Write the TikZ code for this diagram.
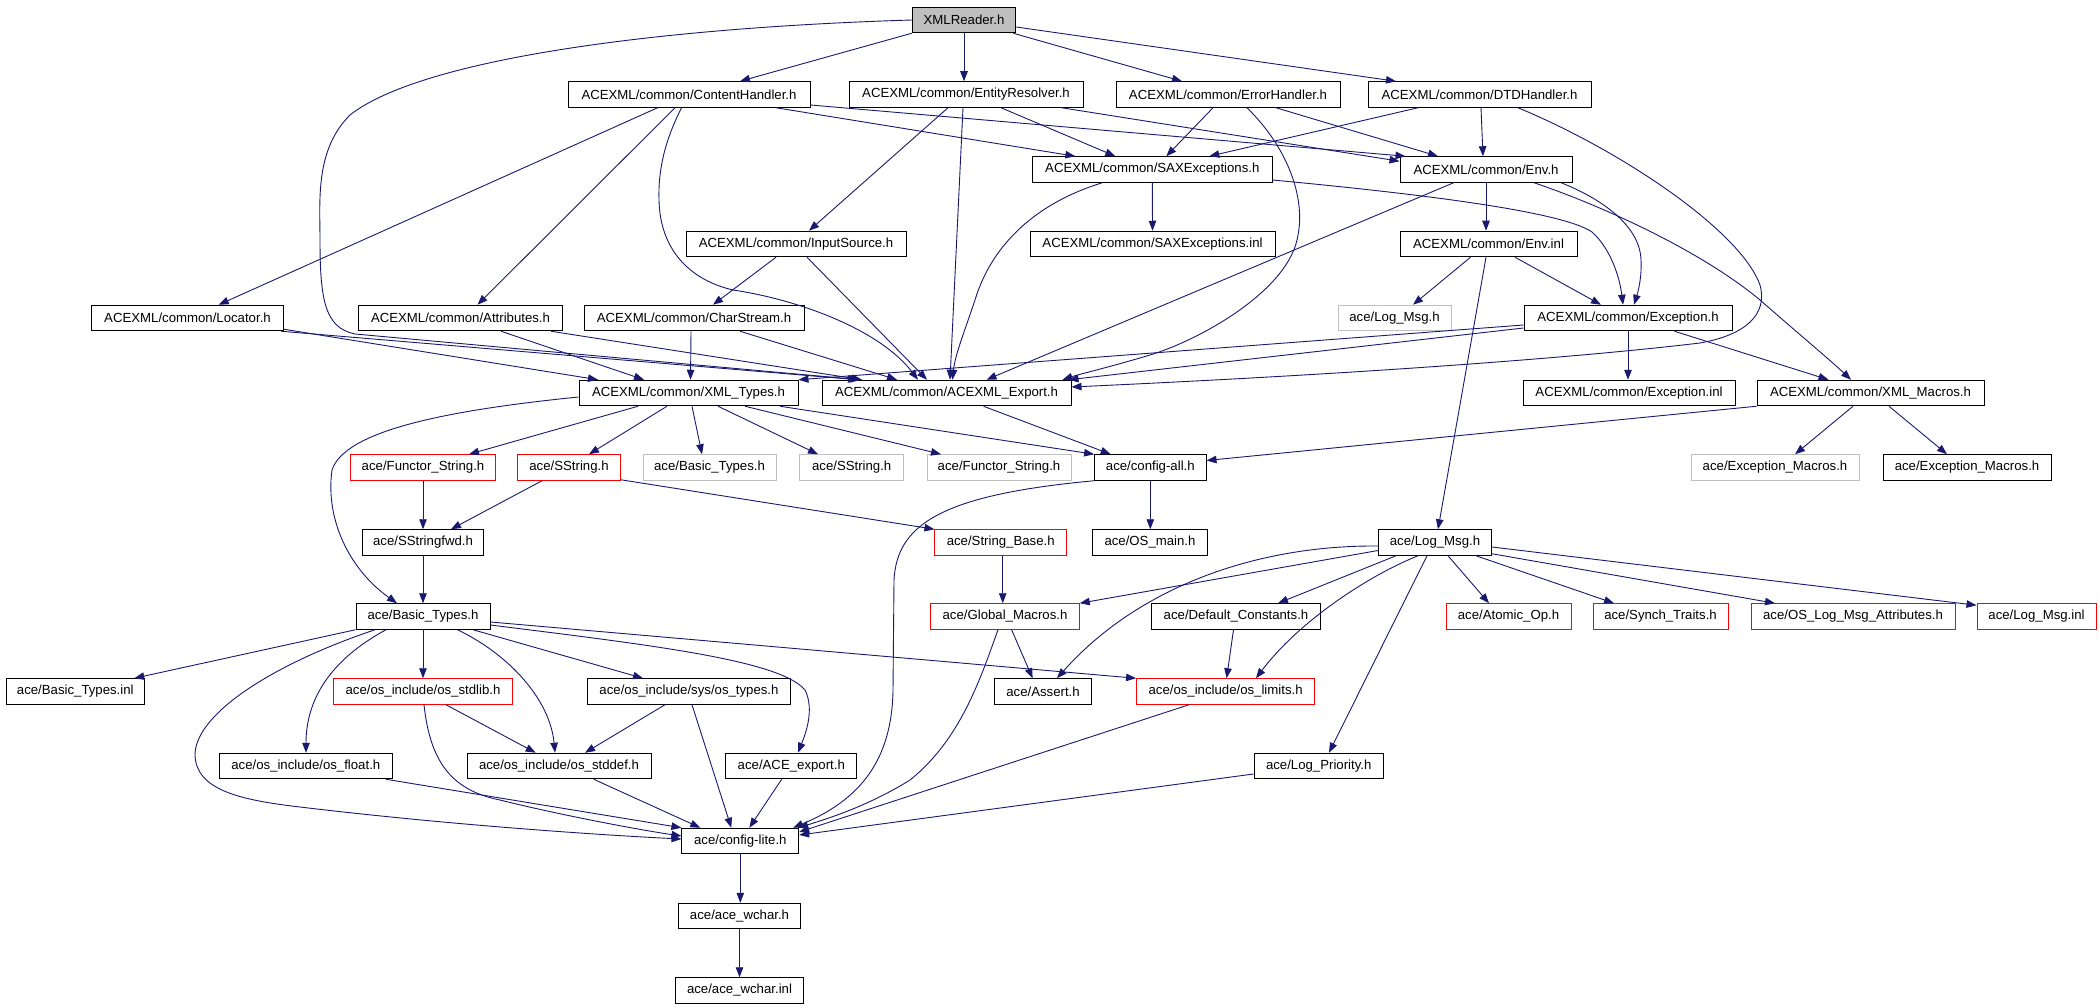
\documentclass[tikz,border=0pt]{standalone}
\usepackage{fontspec}
\setmainfont{Liberation Sans}
\usetikzlibrary{arrows.meta,calc}
\definecolor{edgeblue}{HTML}{191970}
\definecolor{boxgray}{HTML}{BFBFBF}
\begin{document}
\begin{tikzpicture}[x=1pt,y=-1pt,
  box/.style={draw=black, line width=1pt, minimum height=25.5pt, inner sep=0pt, font=\fontsize{13.2}{15}\selectfont, text=black},
  redbox/.style={box, draw=red},
  graybox/.style={box, draw=boxgray},
  dep/.style={draw=edgeblue, line width=0.9pt, -{Triangle[length=10pt,width=7.5pt]}}]
\fill[white] (0,0) rectangle (2099,1008);
\useasboundingbox (0,0) rectangle (2099,1008);
% row 0
\node[box, fill=boxgray, minimum width=103.5] (xmlreader) at (964,20) {XMLReader.h};
% row 1
\node[box, minimum width=242] (contenthandler) at (689,94.5) {ACEXML/common/ContentHandler.h};
\node[box, minimum width=234] (entityresolver) at (966,94.5) {ACEXML/common/EntityResolver.h};
\node[box, minimum width=224] (errorhandler) at (1228,94.5) {ACEXML/common/ErrorHandler.h};
\node[box, minimum width=223] (dtdhandler) at (1479.5,94.5) {ACEXML/common/DTDHandler.h};
% row 2
\node[box, minimum width=239.4] (saxexc) at (1152.3,169.5) {ACEXML/common/SAXExceptions.h};
\node[box, minimum width=172] (envh) at (1486,169.5) {ACEXML/common/Env.h};
% row 3
\node[box, minimum width=220] (inputsource) at (796,244) {ACEXML/common/InputSource.h};
\node[box, minimum width=245] (saxinl) at (1152.5,244) {ACEXML/common/SAXExceptions.inl};
\node[box, minimum width=177] (envinl) at (1488.5,244) {ACEXML/common/Env.inl};
% row 4
\node[box, minimum width=192] (locator) at (187.5,318) {ACEXML/common/Locator.h};
\node[box, minimum width=204] (attributes) at (460.5,318) {ACEXML/common/Attributes.h};
\node[box, minimum width=220] (charstream) at (694,318) {ACEXML/common/CharStream.h};
\node[graybox, minimum width=113] (logmsggray) at (1394.5,318) {ace/Log\_Msg.h};
\node[box, minimum width=208] (exception) at (1628,318) {ACEXML/common/Exception.h};
% row 5
\node[box, minimum width=219] (xmltypes) at (688.5,393) {ACEXML/common/XML\_Types.h};
\node[box, minimum width=249] (export) at (946.5,393) {ACEXML/common/ACEXML\_Export.h};
\node[box, minimum width=212] (exceptioninl) at (1629,393) {ACEXML/common/Exception.inl};
\node[box, minimum width=227] (xmlmacros) at (1870.5,393) {ACEXML/common/XML\_Macros.h};
% row 6
\node[redbox, minimum width=145] (functorred) at (423,467.5) {ace/Functor\_String.h};
\node[redbox, minimum width=102.5] (sstringred) at (569,467.5) {ace/SString.h};
\node[graybox, minimum width=133] (basictypesgray) at (709.5,467.5) {ace/Basic\_Types.h};
\node[graybox, minimum width=103.5] (sstringgray) at (851.7,467.5) {ace/SString.h};
\node[graybox, minimum width=144] (functorgray) at (999,467.5) {ace/Functor\_String.h};
\node[box, minimum width=111.4] (configall) at (1150.3,467.5) {ace/config-all.h};
\node[graybox, minimum width=168] (excmacrosgray) at (1775,467.5) {ace/Exception\_Macros.h};
\node[box, minimum width=168] (excmacros) at (1967,467.5) {ace/Exception\_Macros.h};
% row 7
\node[box, minimum width=121.5] (sstringfwd) at (423,542.5) {ace/SStringfwd.h};
\node[redbox, minimum width=131.5] (stringbase) at (1000.7,542.5) {ace/String\_Base.h};
\node[box, minimum width=115.6] (osmain) at (1150,542.5) {ace/OS\_main.h};
\node[box, minimum width=113] (logmsg) at (1435,542.5) {ace/Log\_Msg.h};
% row 8
\node[box, minimum width=134] (basictypes) at (423,616.5) {ace/Basic\_Types.h};
\node[redbox, minimum width=148.5] (globalmacros) at (1005,616.5) {ace/Global\_Macros.h};
\node[box, minimum width=168.5] (defaultconst) at (1236,616.5) {ace/Default\_Constants.h};
\node[redbox, minimum width=125] (atomicop) at (1508.5,616.5) {ace/Atomic\_Op.h};
\node[redbox, minimum width=135] (synchtraits) at (1660.5,616.5) {ace/Synch\_Traits.h};
\node[redbox, minimum width=204] (oslogmsgattr) at (1853,616.5) {ace/OS\_Log\_Msg\_Attributes.h};
\node[redbox, minimum width=119] (logmsginl) at (2036.5,616.5) {ace/Log\_Msg.inl};
% row 9
\node[box, minimum width=138.6] (basictypesinl) at (75.3,691.5) {ace/Basic\_Types.inl};
\node[redbox, minimum width=178.5] (osstdlib) at (423,691.5) {ace/os\_include/os\_stdlib.h};
\node[box, minimum width=203] (ostypes) at (689,691.5) {ace/os\_include/sys/os\_types.h};
\node[box, minimum width=97] (assert) at (1043,691.5) {ace/Assert.h};
\node[redbox, minimum width=178] (oslimits) at (1225.6,691.5) {ace/os\_include/os\_limits.h};
% row 10
\node[box, minimum width=172.4] (osfloat) at (305.8,766) {ace/os\_include/os\_float.h};
\node[box, minimum width=184] (osstddef) at (559,766) {ace/os\_include/os\_stddef.h};
\node[box, minimum width=130.7] (aceexport) at (791.3,766) {ace/ACE\_export.h};
\node[box, minimum width=129.4] (logpriority) at (1318.7,766) {ace/Log\_Priority.h};
% rows 11-13
\node[box, minimum width=116.7] (configlite) at (740.3,841) {ace/config-lite.h};
\node[box, minimum width=122] (acewchar) at (739.5,916) {ace/ace\_wchar.h};
\node[box, minimum width=128] (acewcharinl) at (739.5,990.5) {ace/ace\_wchar.inl};

% ---- edges from XMLReader
\draw[dep] (xmlreader.south west) -- ([xshift=51]contenthandler.north);
\draw[dep] (xmlreader.south) -- (xmlreader.south |- entityresolver.north);
\draw[dep] ([xshift=-3]xmlreader.south east) -- ([xshift=-46]errorhandler.north);
\draw[dep] ([yshift=-7]xmlreader.east) -- ([xshift=-83.5]dtdhandler.north);
\draw[dep] (xmlreader.west) .. controls (650,28) and (420,60) .. (350,115) .. controls (315,150) and (320,200) .. (320,240) .. controls (320,300) and (325,328) .. (355,334) -- ([xshift=-86.5]export.north);
% ---- ContentHandler
\draw[dep] ([xshift=-31.4]contenthandler.south) -- ([xshift=31.2]locator.north);
\draw[dep] ([xshift=-14]contenthandler.south) -- ([xshift=17]attributes.north);
\draw[dep] ([xshift=-7.4]contenthandler.south) .. controls (665,140) and (658,170) .. (659,200) .. controls (660,250) and (690,280) .. (733,290) .. controls (800,300) and (880,330) .. ([xshift=-28.5]export.north);
\draw[dep] ([xshift=87]contenthandler.south) -- ([xshift=-77]saxexc.north);
\draw[dep] ([yshift=-10.5]contenthandler.east) -- ([xshift=6]envh.north west);
% ---- EntityResolver
\draw[dep] ([xshift=95.6]entityresolver.south) -- ([yshift=-5]envh.north west);
\draw[dep] ([xshift=35]entityresolver.south) -- ([xshift=-37]saxexc.north);
\draw[dep] ([xshift=-18]entityresolver.south) -- ([xshift=13]inputsource.north);
\draw[dep] ([xshift=-3]entityresolver.south) -- ([xshift=3.5]export.north);
% ---- ErrorHandler
\draw[dep] ([xshift=-15]errorhandler.south) -- ([xshift=14]saxexc.north);
\draw[dep] ([xshift=48]errorhandler.south) -- ([xshift=-48]envh.north);
\draw[dep] ([xshift=19]errorhandler.south) .. controls (1290,150) and (1305,200) .. (1298,235) .. controls (1290,290) and (1200,340) .. (1150,355) .. controls (1110,367) and (1080,374) .. ([xshift=-9]export.north east);
% ---- DTDHandler
\draw[dep] ([xshift=-61.5]dtdhandler.south) -- ([xshift=57]saxexc.north);
\draw[dep] ([xshift=1.5]dtdhandler.south) -- ([xshift=-3]envh.north);
\draw[dep] ([xshift=38.5]dtdhandler.south) .. controls (1620,150) and (1740,230) .. (1760,285) .. controls (1768,315) and (1745,335) .. (1700,343) .. controls (1600,355) and (1400,372) .. ([yshift=6]export.east);
% ---- SAXExceptions
\draw[dep] (saxexc.south) -- (saxinl.north);
\draw[dep] ([xshift=-50]saxexc.south) .. controls (1030,205) and (990,250) .. (975,300) .. controls (965,330) and (955,355) .. ([xshift=6]export.north);
\draw[dep] ([yshift=-10.5]saxexc.east) .. controls (1400,192) and (1560,210) .. (1592,232) .. controls (1612,250) and (1620,280) .. ([xshift=-5]exception.north);
% ---- Env.h
\draw[dep] (envh.south) -- (envh.south |- envinl.north);
\draw[dep] ([xshift=75]envh.south) .. controls (1600,198) and (1640,225) .. (1641,260) .. controls (1642,280) and (1637,295) .. ([xshift=6]exception.north);
\draw[dep] ([xshift=48]envh.south) .. controls (1600,205) and (1700,250) .. (1760,300) .. controls (1800,335) and (1830,360) .. ([xshift=-19.5]xmlmacros.north);
\draw[dep] ([xshift=-32.4]envh.south) -- ([xshift=40]export.north);
% ---- Env.inl
\draw[dep] ([xshift=-18]envinl.south) -- ([xshift=18.5]logmsggray.north);
\draw[dep] ([xshift=26.5]envinl.south) -- ([xshift=-27]exception.north);
\draw[dep] ([xshift=-2.5]envinl.south) -- ([xshift=3]logmsg.north);
% ---- Exception.h
\draw[dep] (exception.south) -- (exception.south |- exceptioninl.north);
\draw[dep] ([xshift=46.5]exception.south) -- ([xshift=-42]xmlmacros.north);
\draw[dep] ([yshift=-7]exception.west) -- (xmltypes.north east);
\draw[dep] ([yshift=-10]exception.west) -- ([xshift=-3]export.north east);
% ---- InputSource
\draw[dep] ([xshift=-20]inputsource.south) -- ([xshift=19]charstream.north);
\draw[dep] ([xshift=11]inputsource.south) -- ([xshift=-19.5]export.north);
% ---- CharStream
\draw[dep] ([xshift=-3]charstream.south) -- ([xshift=2]xmltypes.north);
\draw[dep] ([xshift=46]charstream.south) -- ([xshift=-49.5]export.north);
% ---- Attributes
\draw[dep] ([xshift=40.5]attributes.south) -- ([xshift=-44.5]xmltypes.north);
\draw[dep] ([xshift=90.5]attributes.south) -- ([xshift=-84.5]export.north);
% ---- Locator
\draw[dep] ([yshift=2]locator.south east) -- ([xshift=-90.5]xmltypes.north);
\draw[dep] ([xshift=-3]locator.south east) -- ([xshift=-88.5]export.north);
% ---- XML_Types
\draw[dep] ([xshift=-50.5]xmltypes.south) -- ([xshift=46]functorred.north);
\draw[dep] ([xshift=-21.5]xmltypes.south) -- ([xshift=20]sstringred.north);
\draw[dep] ([xshift=3.5]xmltypes.south) -- ([xshift=-7.5]basictypesgray.north);
\draw[dep] ([xshift=29.5]xmltypes.south) -- ([xshift=-33.7]sstringgray.north);
\draw[dep] ([xshift=56.5]xmltypes.south) -- ([xshift=-58]functorgray.north);
\draw[dep] ([xshift=91.5]xmltypes.south) -- (configall.north west);
\draw[dep] ([yshift=-4]xmltypes.west) .. controls (450,410) and (345,430) .. (332,470) .. controls (325,520) and (350,570) .. ([xshift=-26]basictypes.north);
% ---- Export, XML_Macros
\draw[dep] ([xshift=37]export.south) -- ([xshift=-39.6]configall.north);
\draw[dep] (xmlmacros.south west) -- ([yshift=7]configall.east);
\draw[dep] ([xshift=-17.5]xmlmacros.south) -- ([xshift=20]excmacrosgray.north);
\draw[dep] ([xshift=18.5]xmlmacros.south) -- ([xshift=-20]excmacros.north);
% ---- row 6
\draw[dep] (functorred.south) -- (sstringfwd.north);
\draw[dep] ([xshift=-27]sstringred.south) -- ([xshift=28]sstringfwd.north);
\draw[dep] ([yshift=1]sstringred.south east) -- (stringbase.north west);
\draw[dep] (configall.south west) .. controls (940,495) and (897,525) .. (894,580) -- (893,690) .. controls (892,760) and (860,800) .. ([xshift=-6]configlite.north east);
\draw[dep] (configall.south) -- (configall.south |- osmain.north);
% ---- row 7
\draw[dep] (sstringfwd.south) -- (basictypes.north);
\draw[dep] ([xshift=2]stringbase.south) -- ([xshift=-2.3]globalmacros.north);
\draw[dep] ([yshift=-8]logmsg.west) -- (globalmacros.north east);
\draw[dep] ([yshift=-3.5]logmsg.west) .. controls (1260,545) and (1140,585) .. ([xshift=14]assert.north);
\draw[dep] ([xshift=-39]logmsg.south) -- ([xshift=42]defaultconst.north);
\draw[dep] ([xshift=-17]logmsg.south) .. controls (1370,575) and (1300,620) .. ([xshift=30.4]oslimits.north);
\draw[dep] ([xshift=-8]logmsg.south) -- ([xshift=10.3]logpriority.north);
\draw[dep] ([xshift=13]logmsg.south) -- ([xshift=-19.5]atomicop.north);
\draw[dep] ([xshift=41]logmsg.south) -- ([xshift=-46.5]synchtraits.north);
\draw[dep] ([yshift=2]logmsg.south east) -- ([xshift=-78]oslogmsgattr.north);
\draw[dep] ([yshift=-4.5]logmsg.east) -- ([yshift=-2]logmsginl.north west);
% ---- row 8
\draw[dep] ([xshift=6.6]globalmacros.south) -- ([xshift=-10.4]assert.north);
\draw[dep] ([xshift=-7]globalmacros.south) .. controls (980,680) and (960,740) .. (910,780) .. controls (870,805) and (830,818) .. ([xshift=-1]configlite.north east);
\draw[dep] ([xshift=-2.5]defaultconst.south) -- ([xshift=1]oslimits.north);
\draw[dep] (basictypes.south west) -- ([xshift=59]basictypesinl.north);
\draw[dep] (basictypes.south) -- (osstdlib.north);
\draw[dep] ([xshift=50]basictypes.south) -- ([xshift=-46]ostypes.north);
\draw[dep] ([yshift=-5.5]basictypes.east) -- (oslimits.north west);
\draw[dep] ([yshift=-8.5]basictypes.east) .. controls (650,645) and (780,660) .. (805,690) .. controls (815,710) and (805,735) .. ([xshift=6.7]aceexport.north);
\draw[dep] ([xshift=34.5]basictypes.south) .. controls (510,655) and (550,700) .. ([xshift=-4]osstddef.north);
\draw[dep] ([xshift=-37]basictypes.south) .. controls (330,660) and (306,700) .. ([xshift=0.2]osfloat.north);
\draw[dep] ([xshift=-48]basictypes.south) .. controls (270,665) and (195,715) .. (195,755) .. controls (196,790) and (240,800) .. (300,807) .. controls (450,825) and (600,835) .. ([yshift=2]configlite.west);
% ---- row 9
\draw[dep] ([xshift=23]osstdlib.south) -- ([xshift=-23.3]osstddef.north);
\draw[dep] ([xshift=1]osstdlib.south) .. controls (430,760) and (450,790) .. (500,800) .. controls (560,815) and (640,830) .. ([yshift=5]configlite.west);
\draw[dep] ([xshift=-24]ostypes.south) -- ([xshift=26]osstddef.north);
\draw[dep] ([xshift=3]ostypes.south) -- ([xshift=-9]configlite.north);
\draw[dep] ([xshift=-36.6]oslimits.south) -- ([yshift=9]configlite.east);
% ---- row 10
\draw[dep] ([xshift=80]osfloat.south) -- (configlite.north west);
\draw[dep] ([xshift=34.7]osstddef.south) -- ([xshift=-40]configlite.north);
\draw[dep] ([xshift=-9.6]aceexport.south) -- ([xshift=9]configlite.north);
\draw[dep] ([yshift=-8]logpriority.west) -- ([yshift=6]configlite.east);
% ---- rows 11-13
\draw[dep] (configlite.south) -- (configlite.south |- acewchar.north);
\draw[dep] (acewchar.south) -- (acewcharinl.north);
\end{tikzpicture}
\end{document}
